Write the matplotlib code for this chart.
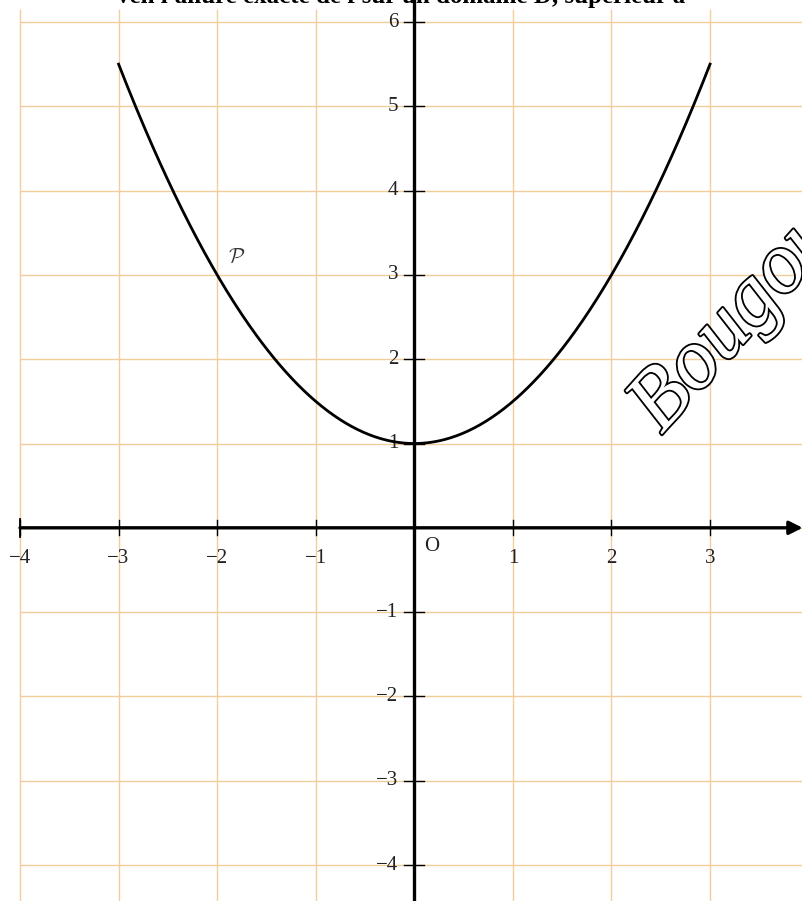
import numpy as np
import matplotlib.pyplot as plt
import matplotlib.patheffects as pe

# parabole P : y = 0.5x^2 + 1 sur [-3, 3]
a, b = 0.5, 1.0
x_min, x_max = -3, 3
xticks = [-4, -3, -2, -1, 1, 2, 3]
yticks = [-4, -3, -2, -1, 1, 2, 3, 4, 5, 6]
grid_x = [-4, -3, -2, -1, 0, 1, 2, 3]
grid_y = [-4, -3, -2, -1, 0, 1, 2, 3, 4, 5, 6]

plt.rcParams['font.family'] = ['Liberation Serif', 'DejaVu Serif']
plt.rcParams['mathtext.fontset'] = 'cm'

fig = plt.figure(figsize=(8.03, 9.01), dpi=100)
ax = fig.add_axes([0, 0, 1, 1])
ax.set_xlim(-4.203, 3.943)
ax.set_ylim(-4.427, 6.261)
ax.axis('off')

gcol = '#f3cc9c'
for gx in grid_x:
    ax.plot([gx, gx], [-4.5, 6.16], color=gcol, lw=1.0, zorder=1,
            solid_capstyle='butt')
for gy in grid_y:
    ax.plot([-4, 4], [gy, gy], color=gcol, lw=1.0, zorder=1,
            solid_capstyle='butt')

# axes
ax.annotate('', xy=(3.94, 0), xytext=(-4, 0), annotation_clip=False,
            arrowprops=dict(arrowstyle='-|>', lw=2.4, color='black',
                            mutation_scale=20, shrinkA=0, shrinkB=0), zorder=3)
ax.plot([0, 0], [-4.5, 6.3], color='black', lw=2.4, zorder=3)

for t in xticks:
    ax.plot([t, t], [-0.09, 0.09], color='black', lw=1.0, zorder=3)
    ax.text(t, -0.36, str(t).replace('-', '\u2212'), ha='center', va='center',
            fontsize=15, color='#222222', zorder=4)
ax.plot([-4, -4], [-0.11, 0.11], color='black', lw=1.3, zorder=3)
for t in yticks:
    ax.plot([-0.1, 0.1], [t, t], color='black', lw=1.0, zorder=3)
    ax.text(-0.16, t, str(t).replace('-', '\u2212'), ha='right', va='center',
            fontsize=15, color='#222222', zorder=4)
ax.text(0.18, -0.22, 'O', ha='center', va='center', fontsize=15,
        color='#222222', zorder=4)

# courbe
xs = np.linspace(x_min, x_max, 400)
ax.plot(xs, a * xs**2 + b, color='black', lw=2.0, zorder=5)
ax.text(-1.8, 3.2, r'$\mathcal{P}$', ha='center', va='center', fontsize=15,
        color='#333333', zorder=4)

# signature
ax.text(2.05, 0.95, 'Bougou', rotation=48, fontsize=62, style='italic',
        color='white', ha='left', va='bottom', zorder=6,
        path_effects=[pe.Stroke(linewidth=2.6, foreground='black'), pe.Normal()])

fig.text(0.5, 1.004, "ven l'allure exacte de f sur un domaine D, supérieur à",
         ha='center', va='center', fontsize=18, fontweight='bold')

fig.savefig('out.png', dpi=100)
